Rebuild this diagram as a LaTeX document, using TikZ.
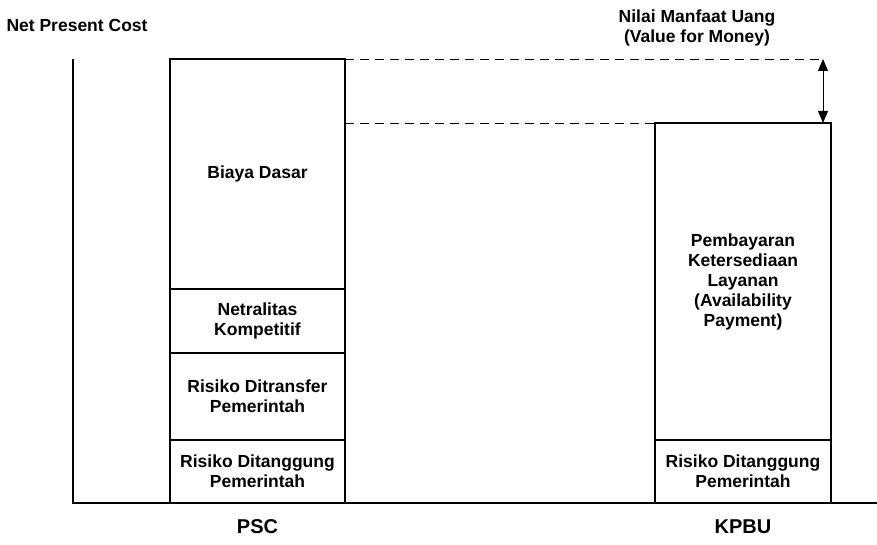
\documentclass[tikz,border=0pt]{standalone}
\usepackage{fontspec}
\setmainfont{Liberation Sans}
\usetikzlibrary{positioning,arrows.meta}

\tikzset{
  seg/.style={draw, line width=1.2pt, minimum width=175pt, inner sep=0pt, outer sep=0pt,
    align=center, font=\bfseries\fontsize{17.5}{20}\selectfont},
  lbl/.style={align=center, font=\bfseries\fontsize{17.5}{20}\selectfont},
  barlbl/.style={font=\bfseries\fontsize{20}{24}\selectfont},
  axisline/.style={line width=1.2pt},
  guide/.style={line width=0.9pt, dash pattern=on 9pt off 6pt},
  vfm/.style={line width=0.9pt, {Triangle[width=10pt,length=12pt]}-{Triangle[width=10pt,length=12pt]}}
}

\begin{document}
\begin{tikzpicture}[x=1pt,y=-1pt]
\useasboundingbox (0,0) rectangle (877,545);

\coordinate (ytop) at (73,59);
\coordinate (orig) at (73,503);
\coordinate (xend) at (877,503);
\draw[axisline] (ytop) -- (orig) -- (xend);

% PSC
\node[seg, minimum height=63pt, anchor=south] (pscrdg) at (257.5,503) {Risiko Ditanggung\\Pemerintah};
\node[seg, minimum height=87pt, above=0pt of pscrdg] (pscrdt) {Risiko Ditransfer\\Pemerintah};
\node[seg, minimum height=64pt, above=0pt of pscrdt] (netral) {Netralitas\\Kompetitif};
\node[seg, minimum height=230pt, above=0pt of netral] (dasar) {Biaya Dasar};

% KPBU
\node[seg, minimum width=176pt, minimum height=63pt, anchor=south] (kpburdg) at (743,503) {Risiko Ditanggung\\Pemerintah};
\node[seg, minimum width=176pt, minimum height=317pt, above=0pt of kpburdg] (bayar) {Pembayaran\\Ketersediaan\\Layanan\\(Availability\\Payment)};

\coordinate (vfmtop) at (823,59);
\coordinate (vfmbot) at (vfmtop |- bayar.north);
\draw[guide] (dasar.north east) -- (vfmtop);
\draw[guide] (dasar.east |- bayar.north) -- (bayar.north west);
\draw[vfm] (vfmtop) -- (vfmbot);

\node[lbl, anchor=west] (npc) at (3,25) {Net Present Cost};
\node[lbl] (vfmlbl) at (697,28) {Nilai Manfaat Uang\\(Value for Money)};
\node[barlbl] (psc) at (257.5,527) {PSC};
\node[barlbl] (kpbu) at (743,527) {KPBU};
\end{tikzpicture}
\end{document}
